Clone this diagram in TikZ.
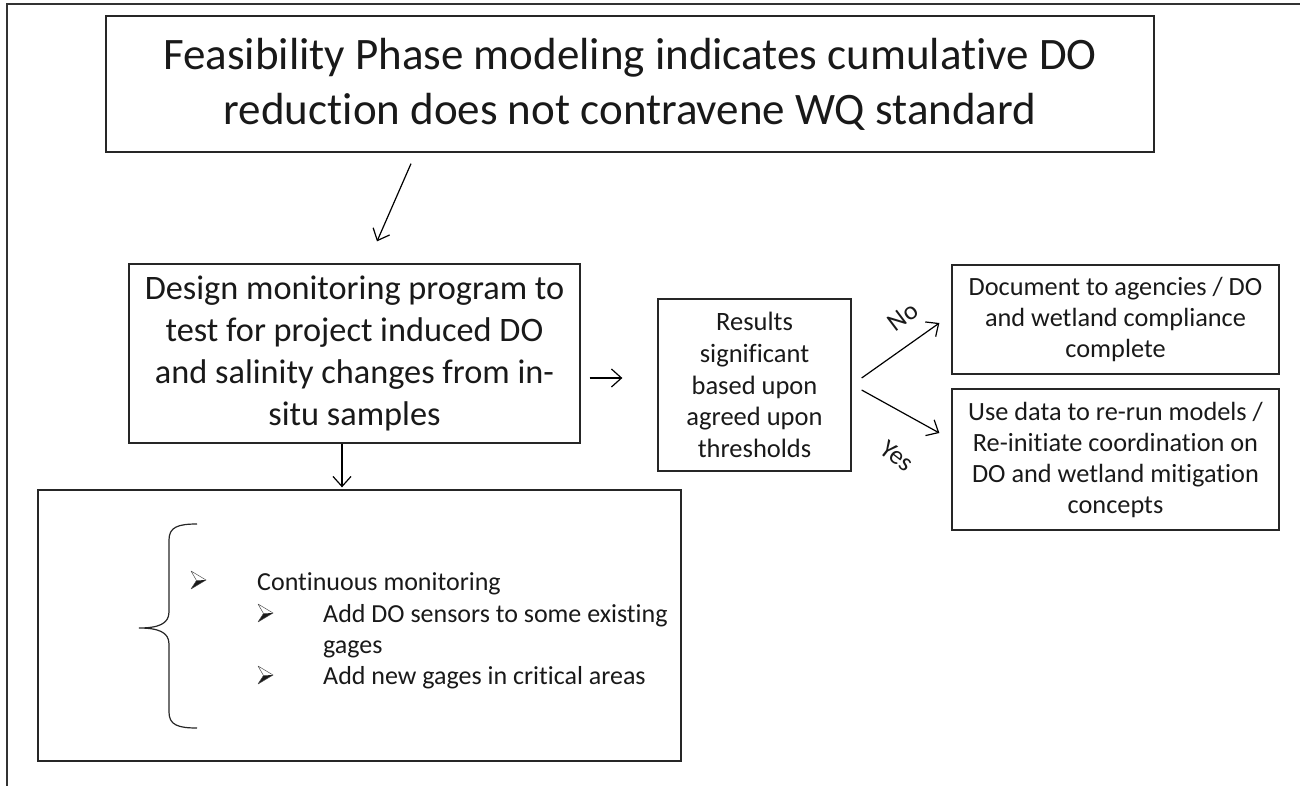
\documentclass[tikz,border=0pt]{standalone}
\usepackage{fontspec}
\setmainfont{Carlito}[Ligatures=CommonOff]
\usepackage{tikz}
\usetikzlibrary{arrows.meta,calc}

\begin{document}
\begin{tikzpicture}[x=1pt,y=-1pt,
    every node/.style={inner sep=0pt, align=center, text=black!90},
    box/.style={draw=black!85, line width=1.3pt},
    flow/.style={line width=1.2pt, -{Straight Barb[length=10pt,width=18pt,line width=1.2pt]}},
    item/.style={anchor=base west, font=\fontsize{26}{31}\selectfont},
    lbl/.style={font=\fontsize{26}{30}\selectfont}]
        \useasboundingbox (0,0) rectangle (1300,786);
        \draw[line width=1.5pt, black!80] (7,786) -- (7,4) -- (1300,4);

        \node[box, minimum width=1048pt, minimum height=136pt, font=\fontsize{45}{55}\selectfont] (nTop) at (630,84)
            {Feasibility Phase modeling indicates cumulative DO\\reduction does not contravene WQ standard};

        \node[box, minimum width=451pt, minimum height=179pt, font=\fontsize{34.3}{42}\selectfont] (nDesign) at (354.5,353.5)
            {Design monitoring program to\\test for project induced DO\\and salinity changes from in-\\situ samples};

        \node[box, minimum width=193pt, minimum height=172pt, font=\fontsize{26.5}{31.7}\selectfont] (nResults) at (754.5,385)
            {Results\\significant\\based upon\\agreed upon\\thresholds};

        \node[box, minimum width=327pt, minimum height=109pt, font=\fontsize{26.3}{31}\selectfont] (nDoc) at (1115.5,319.5)
            {Document to agencies / DO\\and wetland compliance\\complete};

        \node[box, minimum width=327pt, minimum height=141pt, font=\fontsize{26.3}{31}\selectfont] (nUse) at (1115.5,459.5)
            {Use data to re-run models /\\Re-initiate coordination on\\DO and wetland mitigation\\concepts};

        \node[box, minimum width=643pt, minimum height=271pt] (nList) at (359.5,625.5) {};

        \draw[line width=1.2pt, black!85] (197,524) .. controls (178,524) and (169,527) .. (169,540) -- (169,612)
            .. controls (169,624) and (158,628) .. (139,628) .. controls (158,628) and (169,632) .. (169,644)
            -- (169,712) .. controls (169,725) and (178,728) .. (197,728);

        \foreach \bx/\by in {198/580, 265/613, 265/675} {
            \fill[black!90] (\bx+8,\by) -- (\bx-1.5,\by+0.5) -- (\bx-7,\by+9) -- cycle;
            \draw[line width=0.5pt, black!70, line join=round] (\bx+8,\by) -- (\bx-7,\by-9) -- (\bx-1.5,\by+0.5) -- (\bx-7,\by+9) -- cycle;
        }
        \node[item] (iCont) at (257,590) {Continuous monitoring};
        \node[item] (iSens) at (323,622) {Add DO sensors to some existing};
        \node[item] (iGage) at (323,653) {gages};
        \node[item] (iNew) at (323,684) {Add new gages in critical areas};

        \draw[flow] ($(nTop.south)+(-219,11)$) -- ($(nDesign.north)+(22.5,-22)$);
        \draw[flow] ($(nDesign.east |- nResults.west)+(9,-7)$) -- ($(nResults.west)+(-35,-7)$);
        \draw[flow] ($(nDesign.south)+(-12.5,0)$) -- ($(nDesign.south |- nList.north)+(-12.5,-2)$);
        \draw[flow] ($(nResults.east)+(10,-7)$) -- ($(nDoc.west)+(-12,3.5)$);
        \draw[flow] ($(nResults.east)+(10,5)$) -- ($(nUse.west)+(-12,-26.5)$);

        \node[lbl, rotate=37] (lNo) at (903,317) {No};
        \node[lbl, rotate=-38] (lYes) at (897,456) {Yes};
    \end{tikzpicture}
\end{document}
